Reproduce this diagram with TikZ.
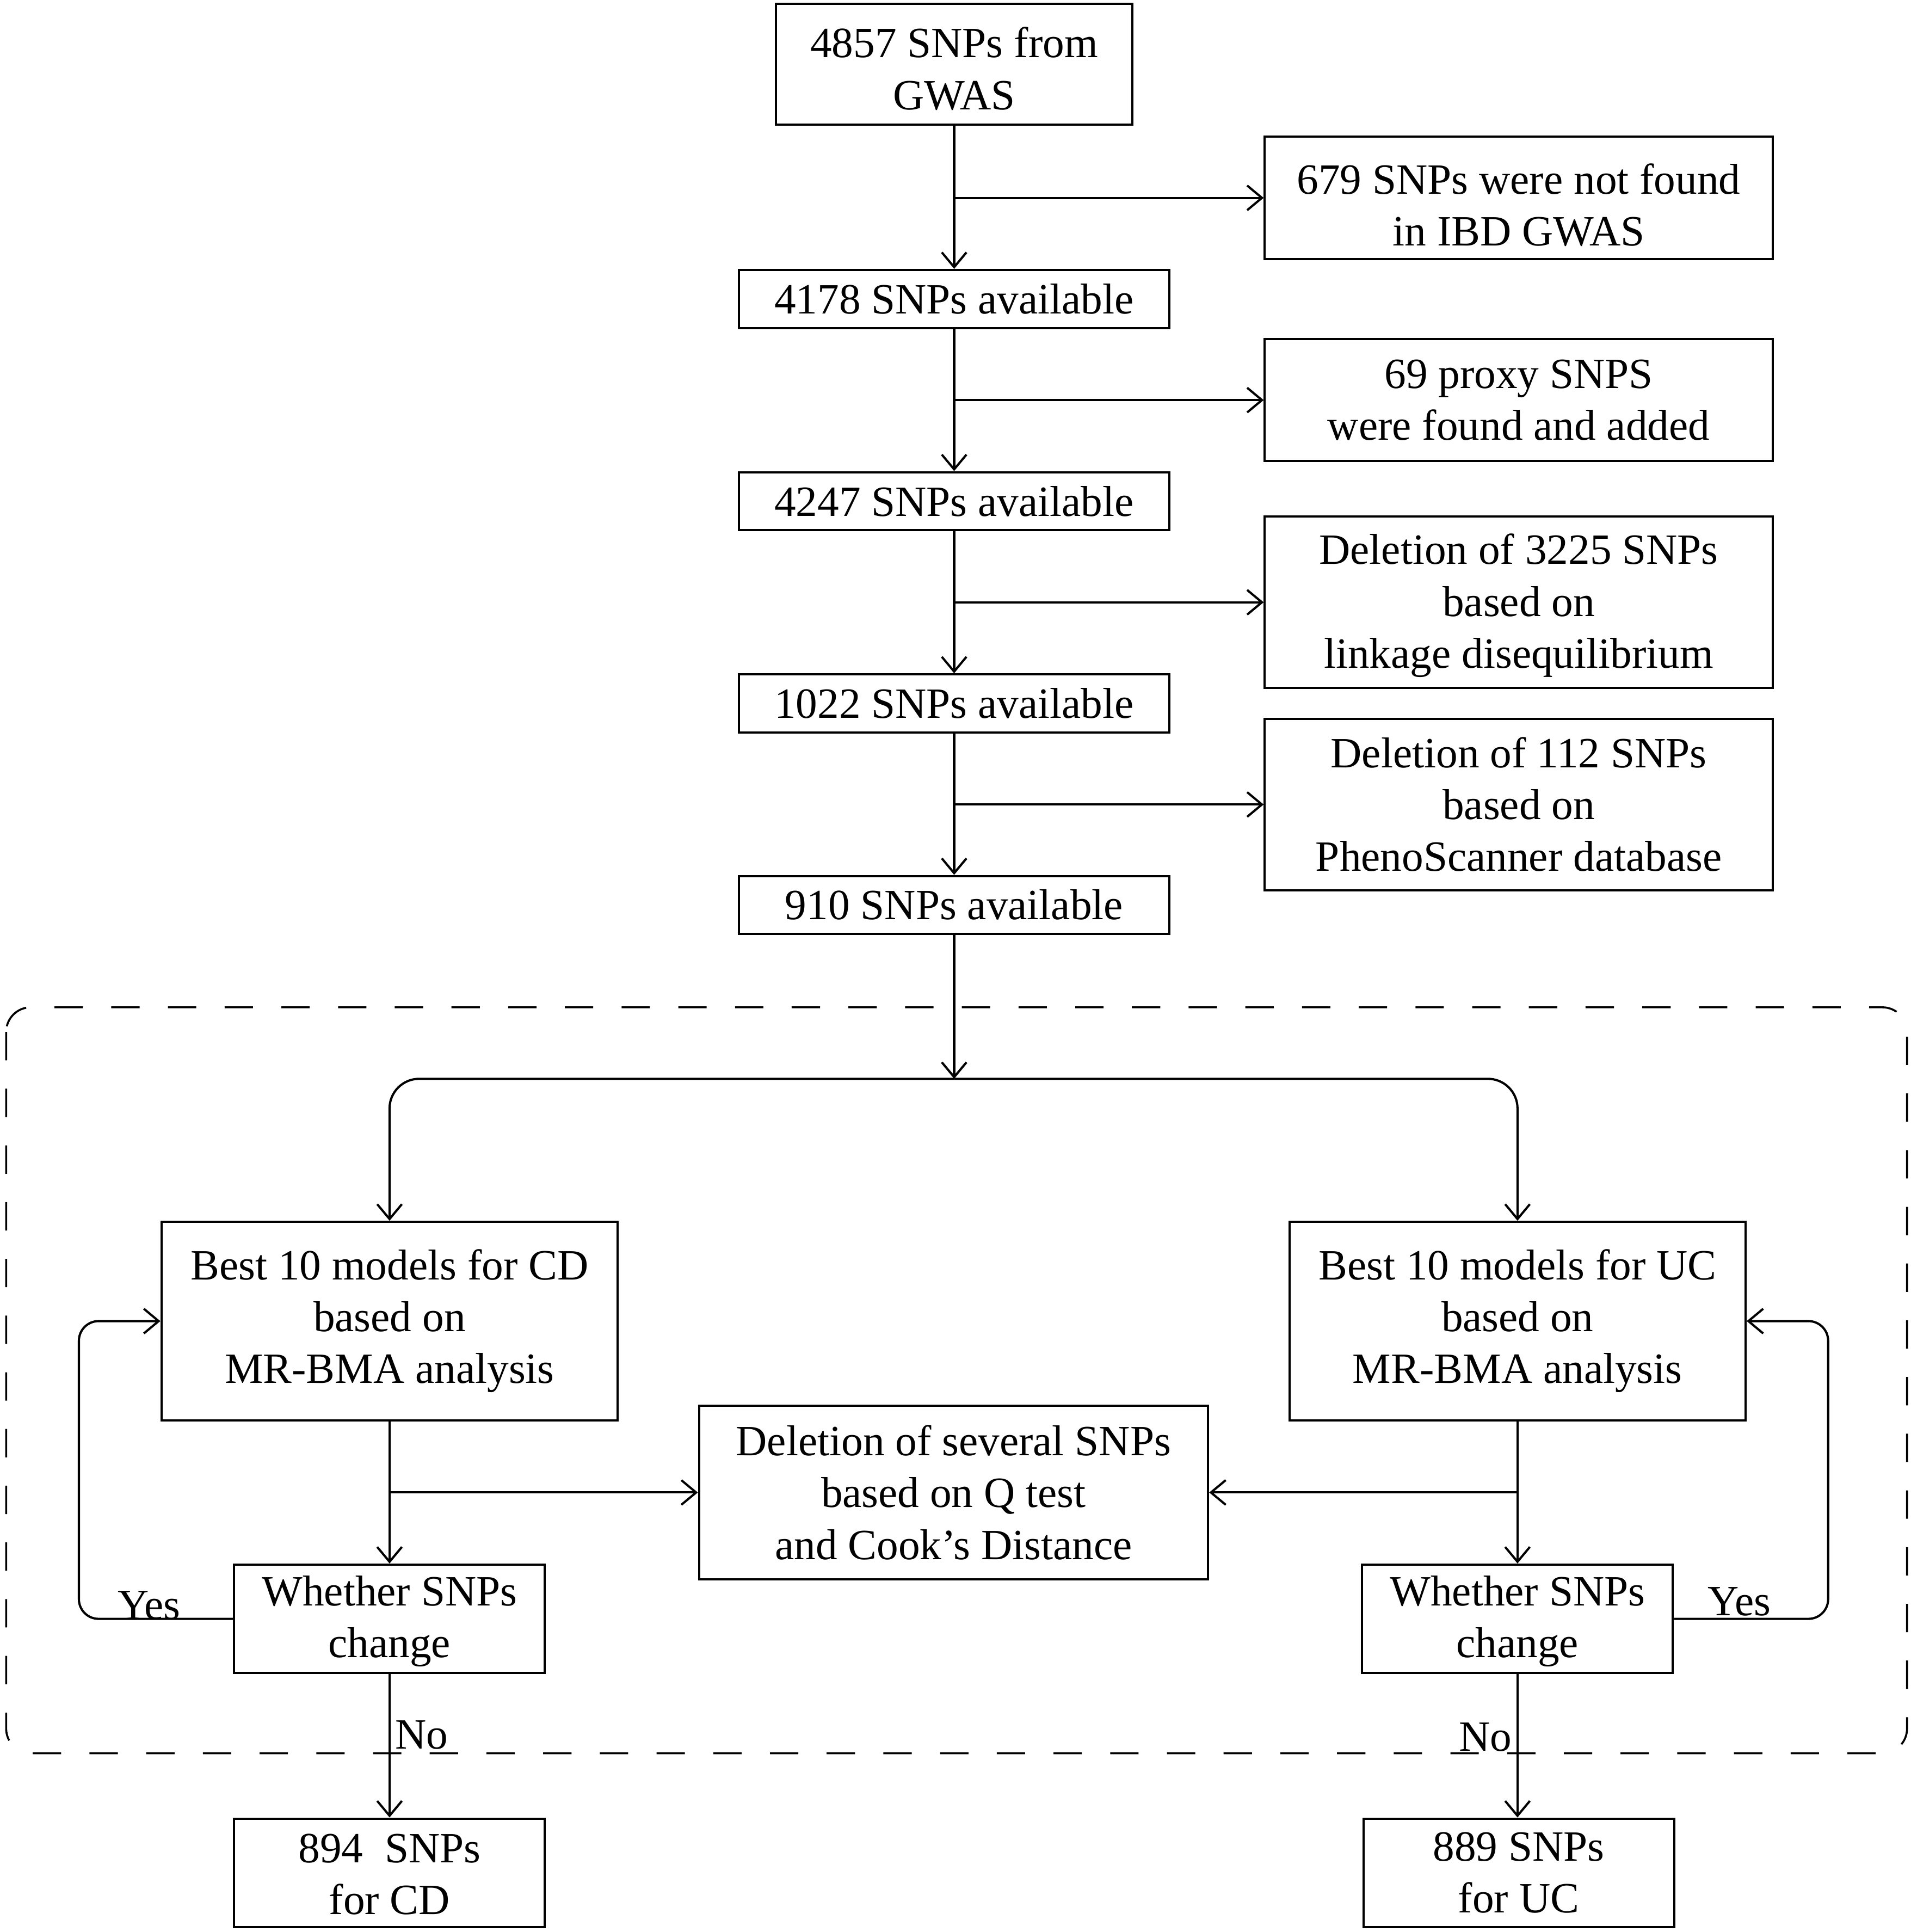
\documentclass[tikz,border=0pt]{standalone}
\usepackage{fontspec}
\setmainfont{Liberation Serif}
\usetikzlibrary{arrows.meta,calc}
\newcommand\mytopstrut[1]{\rule{0pt}{#1pt}}
\begin{document}
\begin{tikzpicture}[x=0.5pt,y=-0.5pt,
  box/.style={draw, line width=0.9pt, align=center, inner sep=0pt, font=\fontsize{17.5}{21}\selectfont},
  arr/.style={draw, line width=0.9pt, -{Straight Barb[length=6pt,width=10pt,line width=0.9pt]}},
  lbl/.style={font=\fontsize{17.5}{21}\selectfont, inner sep=0pt},
  frame/.style={draw, line width=0.8pt, dash pattern=on 11.5pt off 11.5pt, rounded corners=10pt}]
\useasboundingbox (0,0) rectangle (1550,1567);
% main column
\node[box, minimum width=144.5pt, minimum height=49pt] (b4857) at (774,52) {\mytopstrut{16}4857 SNPs from\\GWAS};
\node[box, minimum width=174.5pt, minimum height=23.5pt] (b4178) at (774,242.5) {4178 SNPs available};
\node[box, minimum width=174.5pt, minimum height=23.5pt] (b4247) at (774,406.5) {4247 SNPs available};
\node[box, minimum width=174.5pt, minimum height=23.5pt] (b1022) at (774,570.5) {1022 SNPs available};
\node[box, minimum width=174.5pt, minimum height=23.5pt] (b910) at (774,734) {910 SNPs available};
% right column
\node[box, minimum width=206pt, minimum height=49.5pt] (r1) at (1232,160.5) {\mytopstrut{18}679 SNPs were not found\\in IBD GWAS};
\node[box, minimum width=206pt, minimum height=49.5pt] (r2) at (1232,324.5) {69 proxy SNPS\\were found and added};
\node[box, minimum width=206pt, minimum height=69.5pt] (r3) at (1232,488.5) {\mytopstrut{15}Deletion of 3225 SNPs\\based on\\linkage disequilibrium};
\node[box, minimum width=206pt, minimum height=69.5pt] (r4) at (1232,652.5) {Deletion of 112 SNPs\\based on\\PhenoScanner database};
% lower part
\coordinate (split) at (774,875);
\node[box, minimum width=185pt, minimum height=80.5pt] (cd) at (316,1071.5) {Best 10 models for CD\\based on\\MR-BMA analysis};
\node[box, minimum width=185pt, minimum height=80.5pt] (uc) at (1231,1071.5) {Best 10 models for UC\\based on\\MR-BMA analysis};
\node[box, minimum width=206.5pt, minimum height=70.5pt] (mid) at (773.5,1210.5) {Deletion of several SNPs\\based on Q test\\and Cook’s Distance};
\node[box, minimum width=126pt, minimum height=44pt] (wcd) at (316,1313) {\mytopstrut{14}Whether SNPs\\change};
\node[box, minimum width=126pt, minimum height=44pt] (wuc) at (1231,1313) {\mytopstrut{14}Whether SNPs\\change};
\node[box, minimum width=126pt, minimum height=44pt] (fcd) at (316,1519) {\mytopstrut{13}894~~SNPs\\for CD};
\node[box, minimum width=126pt, minimum height=44pt] (fuc) at (1232,1519) {889 SNPs\\for UC};
\coordinate (lpL) at (64,1071.5);
\coordinate (lpR) at (1483,1071.5);
% dashed frame
\draw[frame] (5,817) rectangle (1547,1422);
% connectors
\draw[arr] (b4857) -- (b4178);
\draw[arr] (b4178) -- (b4247);
\draw[arr] (b4247) -- (b1022);
\draw[arr] (b1022) -- (b910);
\draw[arr] (b910) -- (split);
\draw[arr] (r1.west -| b4857.south) -- (r1.west);
\draw[arr] (r2.west -| b4178.south) -- (r2.west);
\draw[arr] (r3.west -| b4247.south) -- (r3.west);
\draw[arr] (r4.west -| b1022.south) -- (r4.west);
\draw[arr, rounded corners=12pt] (split) -| (cd.north);
\draw[arr, rounded corners=12pt] (split) -| (uc.north);
\draw[arr] (cd) -- (wcd);
\draw[arr] (uc) -- (wuc);
\draw[arr] (mid.west -| cd.south) -- (mid.west);
\draw[arr] (mid.east -| uc.south) -- (mid.east);
\draw[arr, rounded corners=8pt] (wcd.west) -| (lpL) -- (cd.west);
\draw[arr, rounded corners=8pt] (wuc.east) -| (lpR) -- (uc.east);
\draw[arr] (wcd) -- (fcd);
\draw[arr] (wuc) -- (wuc |- fuc.north);
% labels
\node[lbl] (yesL) at (121,1302) {Yes};
\node[lbl] (yesR) at (1411,1299) {Yes};
\node[lbl] (noL) at (342,1407) {No};
\node[lbl] (noR) at (1205,1409) {No};
\end{tikzpicture}
\end{document}
